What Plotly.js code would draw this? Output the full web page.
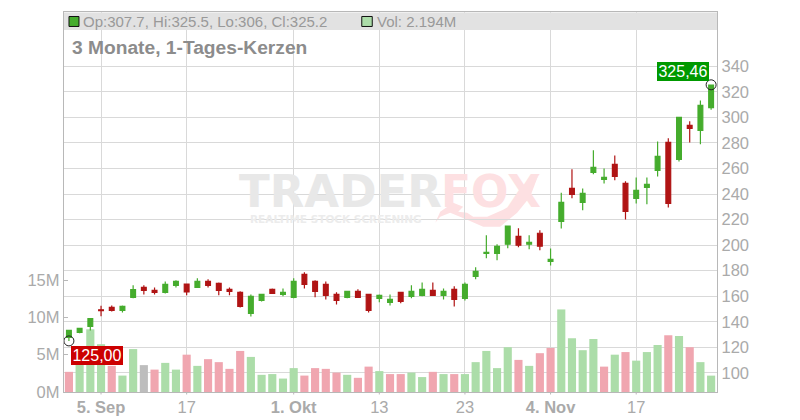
<!DOCTYPE html>
<html><head><meta charset="utf-8">
<script src="https://cdn.plot.ly/plotly-3.0.1.min.js"></script>
<style>html,body{margin:0;padding:0;background:#fff}</style></head>
<body><div id="chart" style="width:800px;height:420px"></div>
<script>
const opens = [127.7,131.6,136.3,149.4,151.2,148.9,159.1,166.9,164.6,163,168.5,169.5,166.9,171.6,170,165.4,163,146.5,156.7,165.4,161.4,159.1,177.1,171.6,169.3,161.4,159.1,163.8,161.4,158.3,155.2,163,159.9,160.7,164.6,160.7,165.4,158.3,175.6,193.6,193.6,200.7,206.9,200.7,209.3,187.2,218.5,244.4,233.4,256.9,251.4,263.2,248.3,236.6,245.2,258.5,280.4,267.1,293.7,289.8,307.7];
const highs = [133.2,135.3,142.4,152.5,152.8,152.8,168.5,168.5,166.9,171.6,172.4,170,174,173.2,170.8,166.9,163.8,161.4,161.4,166.1,166.1,174,178.7,172.4,171.6,163,163.8,165.4,161.4,161.4,161.4,163,168.5,170.8,170.8,166.1,167.7,170.8,182.6,207.7,200.7,214.8,213.2,207.7,211.6,197.4,241,259.3,244.4,274.2,260,270.2,249.9,253,253,281.2,283.6,300.4,296.9,313.3,325.5];
const lows = [125,131,133.2,144.4,148.1,147.3,158.3,161.4,161.4,162.2,166.9,160.7,166.9,166.9,160.7,160.7,151.2,144.2,155.9,162.2,160,158.3,166.1,159.1,157.5,153.6,158.3,159.1,147.3,155.2,152.8,154.4,158.3,159.9,160.7,157.5,152,156.7,173.2,189.7,188.1,197.5,198.3,196.7,196,184.1,213,236.6,227.2,255.4,248.3,250.7,220.1,232.6,231.9,253.8,229.5,265.5,280.4,278.9,306];
const closes = [133.2,134.8,142.4,148.6,148.9,152,165.1,164.6,163,169.3,171.6,163.3,171.6,168.5,164.6,163.8,152,159.9,161.4,162.2,163,171.6,169.3,163.8,160.7,156.7,163.8,159.1,148.9,160.7,157.5,156,163.8,165.4,160.7,163.8,157.5,169.3,179.5,194.4,199.1,214.8,199.9,202.2,199.1,188.8,233.4,239.7,240.5,260.8,253,253.8,226.4,242.8,247.5,269.5,232.6,300,291.4,309.4,325.2];
const volumesM = [2.7,6.0,8.4,6.4,3.5,2.2,5.75,3.6,3.0,3.9,3.0,5.0,3.5,4.4,4.0,3.1,5.5,4.7,2.3,2.4,1.8,3.2,2.2,3.2,3.1,2.6,2.3,1.9,3.4,2.8,2.4,2.4,2.6,2.0,2.7,2.4,2.4,2.4,4.0,5.5,3.2,6.0,4.3,3.5,5.2,5.9,11.06,7.2,5.6,7.1,3.4,5.0,5.35,4.2,5.35,6.3,7.6,7.5,6.0,4.0,2.194];
const volumeDirs = ["r","g","g","g","r","g","g","n","r","g","g","r","g","r","r","r","r","g","g","g","g","g","r","r","r","r","g","r","r","g","r","r","g","g","r","g","r","g","g","g","g","g","r","g","r","r","g","g","g","g","r","g","r","g","g","g","r","g","r","g","g"];
const xTickIdx = [3,11,21,29,37,45,53];
const xTickLabels = ["<b>5. Sep</b>","17","<b>1. Okt</b>","13","23","<b>4. Nov</b>","17"];
const priceTicks = [100,120,140,160,180,200,220,240,260,280,300,320,340];
const volumeTicks = [0,5,10,15];
const volumeTickLabels = ["0M","5M","10M","15M"];
const legendText = "Op:307.7, Hi:325.5, Lo:306, Cl:325.2";
const volText = "Vol: 2.194M";
const titleText = "3 Monate, 1-Tages-Kerzen";
const lowLabel = "125,00", highLabel = "325,46";

const GREEN="#45ac2d", RED="#b01414";
const VOLC={r:"#f0a6b0",g:"#acdda9",n:"#bdbdbd"};
const W=800,H=420,L=63.5,R=717,T=12,B=392.5;
const px=v=>(v-L)/(R-L), py=v=>(B-v)/(B-T);
const xs=opens.map((_,i)=>i);
const FRAME="#b8b8b8", GRID="#d9d9d9", TICKF={family:"Liberation Sans",size:16.5,color:"#aaa"};

const traces=[
 {type:"bar",x:xs,y:volumesM,yaxis:"y",xaxis:"x",width:0.76,marker:{color:volumeDirs.map(d=>VOLC[d]),line:{width:0}},hoverinfo:"skip"},
 {type:"candlestick",x:xs,open:opens,high:highs,low:lows,close:closes,xaxis:"x",yaxis:"y2",whiskerwidth:0,
  increasing:{line:{color:GREEN,width:1.2},fillcolor:GREEN},decreasing:{line:{color:RED,width:1.2},fillcolor:RED},hoverinfo:"skip"},
 {type:"scatter",mode:"markers",x:[0,60],y:[lows[0],highs[60]],xaxis:"x",yaxis:"y2",
  marker:{symbol:"circle-open",size:10,color:"#222",line:{width:1,color:"#222"}},hoverinfo:"skip"}
];
const txt=(x,y,t,o)=>Object.assign({xref:"paper",yref:"paper",x:px(x),y:py(y),text:t,showarrow:false,xanchor:"left",yanchor:"middle",borderpad:0,borderwidth:0,
  font:{family:"Liberation Sans",size:15,color:"#999"}},o||{});
const sw=[[435,223],[440,212],[453,203],[463,207],[458,212],[467,213],[473,217],[487,217],[503,210],[520,200],[538,176],[530,197],[517,213],[500,227],[483,227],[467,220],[450,213],[440,217]];
const layout={
 width:W,height:H,autosize:false,showlegend:false,paper_bgcolor:"#fff",plot_bgcolor:"#fff",
 margin:{l:L,r:W-R,t:T,b:H-B,pad:0},boxgap:0.36,bargap:0.24,
 font:{family:"Liberation Sans",color:"#aaa",size:16},
 xaxis:{type:"linear",range:[-0.46,60.55],tickmode:"array",tickvals:xTickIdx,ticktext:xTickLabels,showgrid:true,gridcolor:GRID,gridwidth:1,
  zeroline:false,showline:true,linecolor:FRAME,linewidth:1.2,mirror:true,ticks:"",
  tickfont:TICKF,rangeslider:{visible:false},fixedrange:true},
 yaxis:{range:[0,50.9],side:"left",tickmode:"array",tickvals:volumeTicks,ticktext:volumeTickLabels,showgrid:false,zeroline:false,
  showline:true,linecolor:FRAME,linewidth:1.2,ticks:"inside",ticklen:4,tickcolor:FRAME,tickfont:TICKF,fixedrange:true},
 yaxis2:{range:[85,382.5],side:"right",overlaying:"y",tickmode:"array",tickvals:priceTicks,ticktext:priceTicks.map(String),showgrid:true,gridcolor:GRID,gridwidth:1,zeroline:false,
  showline:true,linecolor:FRAME,linewidth:1.2,ticks:"",tickfont:TICKF,fixedrange:true},
 shapes:[
  {type:"rect",xref:"paper",yref:"paper",x0:px(L),x1:px(R),y0:py(12.5),y1:py(30),fillcolor:"#e2e2e2",line:{width:0},layer:"above"},
  {type:"rect",xref:"paper",yref:"paper",x0:px(68.5),x1:px(78.5),y0:py(16.5),y1:py(26.5),fillcolor:GREEN,line:{width:1,color:"#111"},layer:"above"},
  {type:"rect",xref:"paper",yref:"paper",x0:px(361.5),x1:px(372),y0:py(16.5),y1:py(26.5),fillcolor:VOLC.g,line:{width:1,color:"#111"},layer:"above"},
  {type:"path",xref:"paper",yref:"paper",layer:"below",fillcolor:"#fde0e2",line:{width:0},
   path:"M "+sw.map(p=>px(p[0])+" "+py(p[1])).join(" L ")+" Z"}
 ].concat(xTickIdx.map(i=>({type:"line",xref:"x",yref:"paper",x0:i,x1:i,y0:0,y1:py(395),line:{width:1,color:FRAME},layer:"above"}))),
 annotations:[
  txt(83,21.5,legendText),
  txt(377,21.5,volText),
  txt(72,48,titleText,{font:{family:"Liberation Sans",size:19.2,color:"#8c8c8c",weight:700}}),
  txt(239,192,"TRADER",{font:{family:"DejaVu Sans",size:45,color:"#e8e8e8",weight:700}}),
  txt(441,192,"FOX",{font:{family:"DejaVu Sans",size:44,color:"#fde0e2",weight:700}}),
  txt(250,219,"REALTIME STOCK SCREENING",{font:{family:"DejaVu Sans",size:10.5,color:"#ececec",weight:700}}),
  txt(71,355.5,lowLabel,{bgcolor:"#cc0000",font:{family:"Liberation Sans",size:16,color:"#fff"},width:52,height:19,align:"center"}),
  txt(657,71.5,highLabel,{bgcolor:"#009900",font:{family:"Liberation Sans",size:16,color:"#fff"},width:52,height:19,align:"center"})
 ]
};
Plotly.newPlot("chart",traces,layout,{displayModeBar:false,staticPlot:true});
</script></body></html>
